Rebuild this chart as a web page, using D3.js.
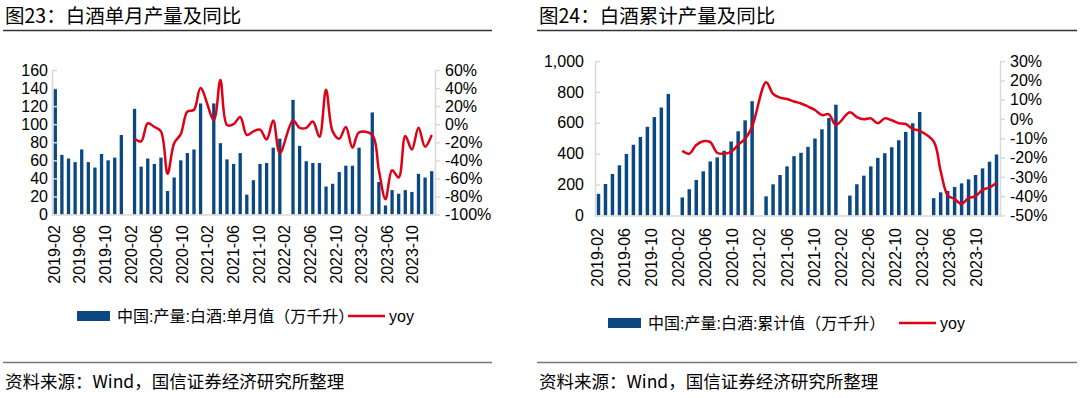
<!DOCTYPE html>
<html>
<head>
<meta charset="utf-8">
<script src="https://cdn.jsdelivr.net/npm/d3@7/dist/d3.min.js"></script>
<style>
body { margin: 0; background: #fff; }
svg text { font-family: "Liberation Sans", Arial, "Noto Sans CJK SC", sans-serif; fill: #000; }
</style>
</head>
<body>
<div id="chart"></div>
<script>
var width = 1080;
var height = 398;

// categories, monthly (Jan is merged into Feb in the source, so Jan has no value)
var months = [
	"2019-02","2019-03","2019-04","2019-05","2019-06","2019-07","2019-08","2019-09","2019-10","2019-11","2019-12",
	"2020-01","2020-02","2020-03","2020-04","2020-05","2020-06","2020-07","2020-08","2020-09","2020-10","2020-11","2020-12",
	"2021-01","2021-02","2021-03","2021-04","2021-05","2021-06","2021-07","2021-08","2021-09","2021-10","2021-11","2021-12",
	"2022-01","2022-02","2022-03","2022-04","2022-05","2022-06","2022-07","2022-08","2022-09","2022-10","2022-11","2022-12",
	"2023-01","2023-02","2023-03","2023-04","2023-05","2023-06","2023-07","2023-08","2023-09","2023-10","2023-11"
];
var tickMonths = ["2019-02","2019-06","2019-10","2020-02","2020-06","2020-10","2021-02","2021-06","2021-10",
	"2022-02","2022-06","2022-10","2023-02","2023-06","2023-10"];

// 单月值（万千升）
var monthly = [
	140, 66, 62, 58, 72, 58, 52, 67, 60, 63, 88,
	null, 117, 53, 62, 56, 63, 26, 41, 60, 68, 72, 123,
	null, 123, 79, 61, 56, 68, 22, 38, 56, 57, 74, 84,
	null, 127, 76, 59, 57, 57, 31, 34, 47, 54, 54, 74,
	null, 113, 36, 10, 27, 23, 27, 25, 45, 41, 48
];
var monthlyYoy = [
	null, null, null, null, null, null, null, null, null, null, null,
	null, -16, -19, 1, -3, -8, -55, -21, -11, 14, 16, 40,
	null, 5, 49, -1, 0, 8, -12, -8, -6, -17, 4, -32,
	null, 4, -4, -4, 3, -14, 38, -8, -16, -3, -26, -9,
	null, -12, -51, -83, -51, -59, -13, -28, -4, -25, -12
];

// 累计值（万千升）
var cumulative = [
	140, 204, 269, 325, 398, 458, 508, 574, 637, 699, 787,
	null, 117, 170, 230, 286, 350, 376, 419, 479, 545, 616, 740,
	null, 124, 202, 262, 318, 384, 406, 444, 498, 558, 631, 717,
	null, 129, 202, 258, 318, 373, 403, 442, 487, 541, 597, 670,
	null, 112, 150, 159, 185, 208, 234, 262, 305, 348, 395
];
var cumulativeYoy = [
	null, null, null, null, null, null, null, null, null, null, null,
	null, -16.5, -18, -13.5, -11.5, -12, -17.5, -18, -17, -13.4, -10.3, -4,
	null, 19, 13, 11, 10.3, 9, 8, 6.4, 4.6, 2, 2.4, -3.1,
	null, 3.4, 1, -0.2, 0.3, -2.2, 0.3, -0.7, -2.2, -2.6, -5.2, -6.2,
	null, -11.7, -27, -39.5, -41.5, -44, -41, -40, -36.7, -35.5, -33
];

var leftTicks1 = [0, 20, 40, 60, 80, 100, 120, 140, 160];
var rightTicks1 = [-100, -80, -60, -40, -20, 0, 20, 40, 60];
var leftTicks2 = [0, 200, 400, 600, 800, 1000];
var rightTicks2 = [-50, -40, -30, -20, -10, 0, 10, 20, 30];

var barColor = "#0b4882";
var lineColor = "#e00016";
var axisColor = "#d9d9d9";

var svg = d3.select("#chart").append("svg")
	.attr("width", width)
	.attr("height", height);

function drawPanel(cfg) {
	var g = svg.append("g");

	// title + rules
	g.append("text")
		.attr("x", cfg.x0 + 2)
		.attr("y", 23)
		.style("font-family", "'Noto Sans CJK SC', sans-serif")
		.style("font-size", "19.5px")
		.text(cfg.title);
	g.append("line")
		.attr("x1", cfg.x0).attr("x2", cfg.x1)
		.attr("y1", 30.5).attr("y2", 30.5)
		.attr("stroke", "#333").attr("stroke-width", 1.5);
	g.append("line")
		.attr("x1", cfg.x0).attr("x2", cfg.x1)
		.attr("y1", 362.5).attr("y2", 362.5)
		.attr("stroke", "#777").attr("stroke-width", 1.5);
	g.append("text")
		.attr("x", cfg.x0 + 2)
		.attr("y", 388)
		.style("font-family", "'Noto Sans CJK SC', sans-serif")
		.style("font-size", "17.5px")
		.text("资料来源：Wind，国信证券经济研究所整理");

	var x = d3.scaleBand()
		.domain(months)
		.range([cfg.left, cfg.right])
		.paddingInner(0.5)
		.paddingOuter(0.25);
	var yL = d3.scaleLinear().domain(cfg.leftDomain).range([cfg.bottom, cfg.top]);
	var yR = d3.scaleLinear().domain(cfg.rightDomain).range([cfg.bottom, cfg.top]);

	// bars
	var barData = months.map(function(m, i) {
		return {m: m, v: cfg.bars[i]};
	}).filter(function(d) { return d.v != null; });

	g.selectAll("rect.bar")
		.data(barData)
		.enter()
		.append("rect")
		.attr("class", "bar")
		.attr("x", function(d) { return x(d.m); })
		.attr("width", x.bandwidth())
		.attr("y", function(d) { return yL(d.v); })
		.attr("height", function(d) { return yL(0) - yL(d.v); })
		.attr("fill", barColor);

	// x baseline
	g.append("line")
		.attr("x1", cfg.left).attr("x2", cfg.right)
		.attr("y1", cfg.bottom + 0.5).attr("y2", cfg.bottom + 0.5)
		.attr("stroke", axisColor).attr("stroke-width", 1.5);

	// left axis
	var axL = g.append("g")
		.attr("transform", "translate(" + cfg.left + ",0)")
		.call(d3.axisLeft(yL).tickValues(cfg.leftTicks).tickSize(-5).tickSizeOuter(0).tickPadding(cfg.leftPad)
			.tickFormat(cfg.leftFmt));
	// right axis
	var axR = g.append("g")
		.attr("transform", "translate(" + cfg.right + ",0)")
		.call(d3.axisRight(yR).tickValues(cfg.rightTicks).tickSize(5).tickSizeOuter(0).tickPadding(5)
			.tickFormat(function(d) { return d + "%"; }));
	[axL, axR].forEach(function(a) {
		a.select(".domain").attr("stroke", axisColor).attr("stroke-width", 1.5);
		a.selectAll(".tick line").attr("stroke", axisColor).attr("stroke-width", 1.5);
		a.selectAll("text")
			.style("font-family", "'Liberation Sans', Arial, sans-serif")
			.style("font-size", "16px")
			.attr("fill", "#000");
	});

	// x tick labels, rotated; the source spaces them a little tighter than the bars
	var labelX = function(d) {
		return cfg.left + x.step() * (0.3 + 0.97 * months.indexOf(d));
	};
	g.selectAll("text.xlab")
		.data(tickMonths)
		.enter()
		.append("text")
		.attr("class", "xlab")
		.attr("transform", function(d) {
			return "translate(" + labelX(d) + "," + cfg.labelTop + ") rotate(-90)";
		})
		.attr("dy", "0.36em")
		.attr("text-anchor", "end")
		.style("font-size", "16px")
		.text(function(d) { return d; });

	// yoy line
	var lineData = months.map(function(m, i) {
		return {m: m, v: cfg.yoy[i]};
	}).filter(function(d) { return d.v != null; });

	var line = d3.line()
		.x(function(d) { return x(d.m) + x.bandwidth() / 2; })
		.y(function(d) { return yR(d.v); })
		.curve(d3.curveCatmullRom.alpha(0.5));

	g.append("path")
		.datum(lineData)
		.attr("d", line)
		.attr("fill", "none")
		.attr("stroke", lineColor)
		.attr("stroke-width", 2.5)
		.attr("stroke-linejoin", "round");

	// legend
	var lg = g.append("g").attr("transform", "translate(" + cfg.legendX + "," + cfg.legendY + ")");
	lg.append("rect")
		.attr("x", 0).attr("y", -5)
		.attr("width", 33).attr("height", 10)
		.attr("fill", barColor);
	lg.append("text")
		.attr("x", 40).attr("y", 0)
		.attr("dy", "0.36em")
		.style("font-size", "16px")
		.text(cfg.barName);
	lg.append("line")
		.attr("x1", cfg.legendLineX).attr("x2", cfg.legendLineX + 37)
		.attr("y1", 0).attr("y2", 0)
		.attr("stroke", lineColor).attr("stroke-width", 2.5);
	lg.append("text")
		.attr("x", cfg.legendLineX + 41).attr("y", 0)
		.attr("dy", "0.36em")
		.style("font-size", "16px")
		.text("yoy");
}

drawPanel({
	x0: 3, x1: 492,
	title: "图23：白酒单月产量及同比",
	left: 52, right: 435, top: 70, bottom: 214.5,
	leftDomain: [0, 160], rightDomain: [-100, 60],
	leftTicks: leftTicks1, rightTicks: rightTicks1,
	leftFmt: function(d) { return d; }, leftPad: 4,
	bars: monthly, yoy: monthlyYoy,
	labelTop: 225,
	legendX: 77, legendY: 316, legendLineX: 271,
	barName: "中国:产量:白酒:单月值（万千升）"
});

drawPanel({
	x0: 537, x1: 1077,
	title: "图24：白酒累计产量及同比",
	left: 595, right: 1000, top: 61, bottom: 215.5,
	leftDomain: [0, 1000], rightDomain: [-50, 30],
	leftTicks: leftTicks2, rightTicks: rightTicks2,
	leftFmt: d3.format(","), leftPad: 11,
	bars: cumulative, yoy: cumulativeYoy,
	labelTop: 228,
	legendX: 608, legendY: 323, legendLineX: 291,
	barName: "中国:产量:白酒:累计值（万千升）"
});
</script>
</body>
</html>
